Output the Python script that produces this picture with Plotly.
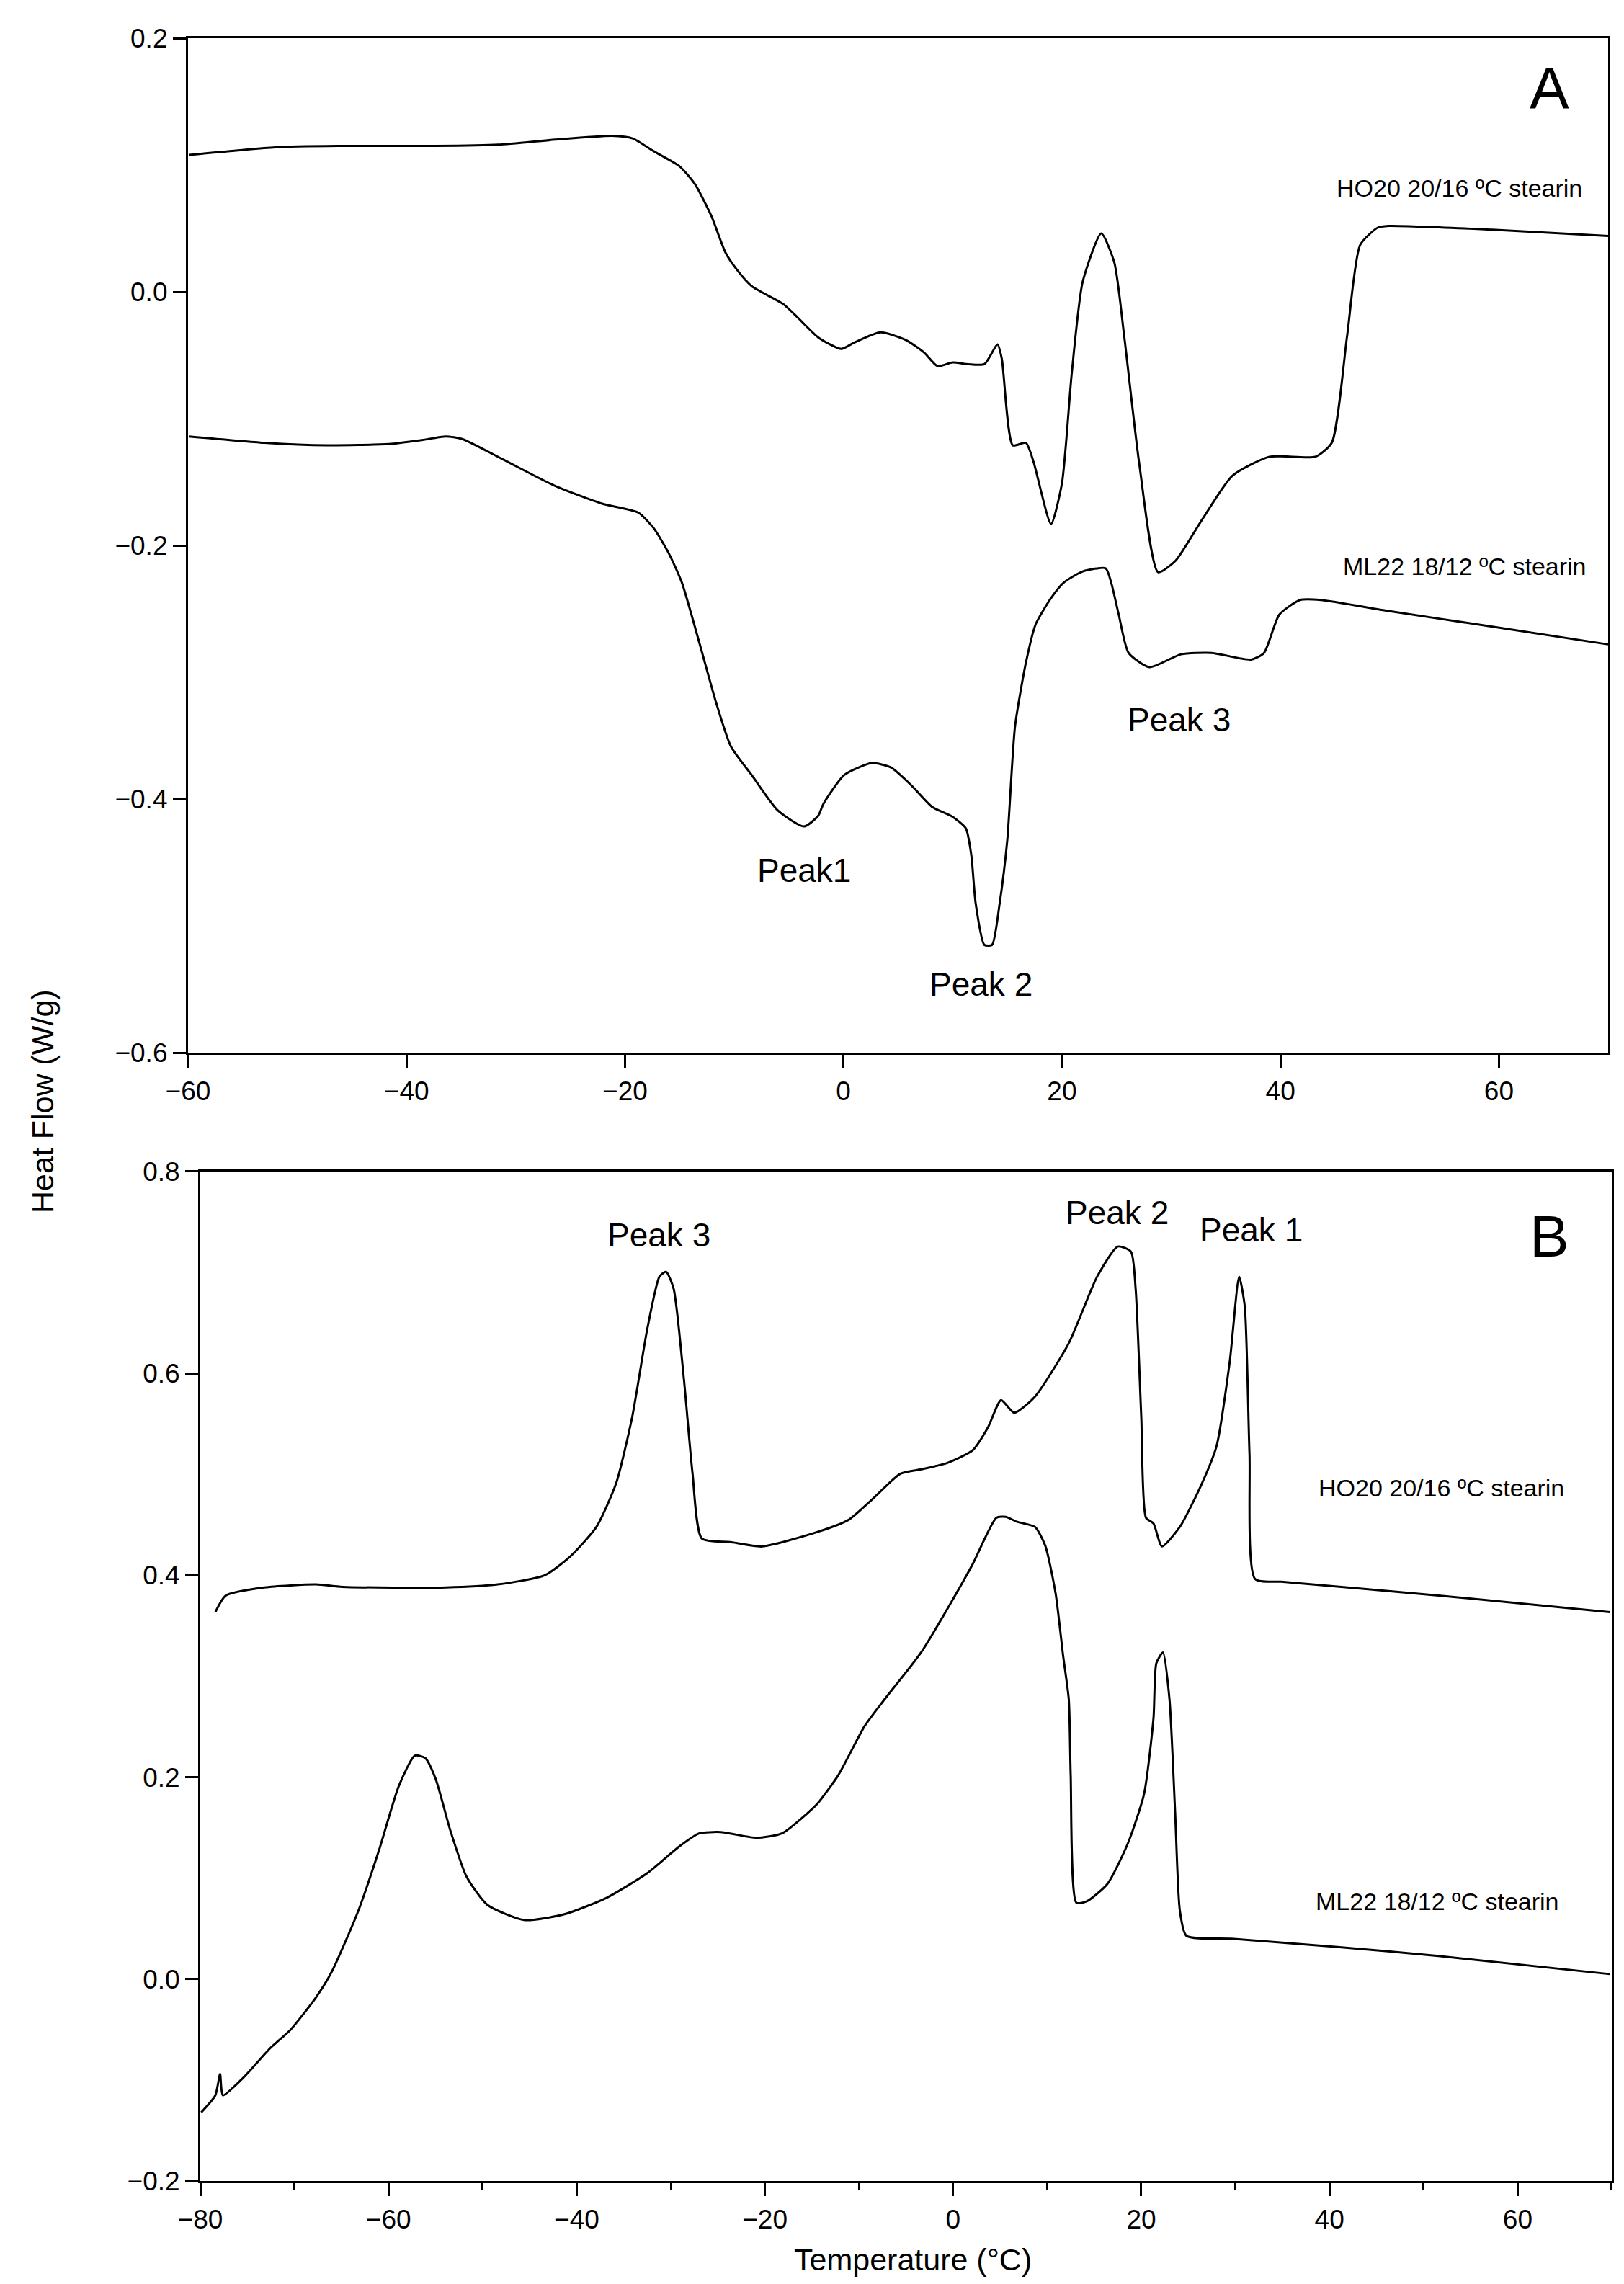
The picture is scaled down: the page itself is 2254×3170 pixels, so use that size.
import plotly.graph_objects as go
from plotly.subplots import make_subplots

# ---- panel A (cooling / crystallisation) ----
a_ho20_t = [-59.9, -52.0, -46.3, -37.3, -31.6, -26.4, -21.2, -19.3, -17.4, -15.0, -13.6, -12.1,
            -10.8, -9.8, -8.4, -5.5, -4.1, -2.3, -0.2, 1.0, 3.4, 5.7, 7.4, 8.6, 10.0, 11.4, 12.9,
            14.1, 14.5, 15.5, 16.7, 17.4, 19.0, 20.0, 20.9, 21.9, 23.6, 24.8, 25.7, 27.1, 28.8,
            30.4, 32.8, 35.6, 39.0, 43.2, 44.7, 46.1, 47.3, 48.9, 49.9, 59.4, 70.0]
a_ho20_hf = [0.108, 0.114, 0.115, 0.115, 0.116, 0.120, 0.123, 0.121, 0.111, 0.099, 0.085, 0.060,
             0.031, 0.018, 0.0045, -0.0097, -0.021, -0.036, -0.045, -0.040, -0.032, -0.038, -0.048,
             -0.0585, -0.0557, -0.057, -0.057, -0.0415, -0.053, -0.121, -0.119, -0.134, -0.183,
             -0.151, -0.064, 0.008, 0.046, 0.023, -0.035, -0.137, -0.221, -0.212, -0.180, -0.145,
             -0.130, -0.130, -0.119, -0.035, 0.037, 0.0506, 0.052, 0.049, 0.044]

a_ml22_t = [-59.9, -53.0, -47.3, -41.6, -38.7, -36.4, -34.9, -31.2, -26.4, -22.1, -18.8, -17.4,
            -16.0, -14.8, -13.1, -11.7, -10.3, -8.4, -6.0, -3.6, -2.3, -1.85, 0.07, 2.6, 4.35,
            6.2, 8.1, 10.0, 11.2, 11.7, 12.1, 12.9, 13.6, 14.3, 15.0, 15.7, 16.7, 17.6, 19.0,
            20.2, 21.9, 24.0, 24.5, 25.2, 26.1, 28.0, 30.9, 33.7, 37.3, 38.5, 39.9, 41.8, 43.7,
            49.9, 59.4, 70.0]
a_ml22_hf = [-0.114, -0.119, -0.121, -0.120, -0.117, -0.114, -0.116, -0.132, -0.153, -0.167,
             -0.174, -0.186, -0.206, -0.229, -0.2795, -0.3227, -0.3585, -0.381, -0.409, -0.4216,
             -0.413, -0.404, -0.381, -0.3716, -0.375, -0.389, -0.406, -0.414, -0.423, -0.444,
             -0.482, -0.515, -0.515, -0.482, -0.432, -0.343, -0.2925, -0.262, -0.2415, -0.229,
             -0.2205, -0.218, -0.229, -0.2545, -0.2847, -0.296, -0.2858, -0.2847, -0.290, -0.2847,
             -0.2545, -0.243, -0.243, -0.2517, -0.264, -0.278]

# ---- panel B (heating / melting) ----
b_ho20_t = [-78.4, -77.3, -73.2, -67.7, -64.9, -53.9, -48.4, -43.4, -40.7, -37.9, -35.8, -34.1,
            -32.5, -31.2, -30.5, -29.7, -28.6, -27.7, -26.7, -23.7, -20.3, -14.4, -11.1, -8.4,
            -5.6, -3.4, -0.6, 2.1, 3.7, 5.1, 6.5, 8.7, 12.3, 15.3, 17.5, 18.9, 19.4, 20.0, 20.5,
            21.3, 22.2, 24.1, 26.3, 28.0, 29.4, 30.4, 31.0, 31.5, 32.1, 35.1, 51.6, 69.8]
b_ho20_hf = [0.3636, 0.380, 0.388, 0.391, 0.3886, 0.388, 0.391, 0.400, 0.4186, 0.448, 0.4914,
             0.557, 0.644, 0.696, 0.7007, 0.684, 0.5936, 0.502, 0.4364, 0.433, 0.4286, 0.443,
             0.455, 0.477, 0.5007, 0.505, 0.5114, 0.524, 0.5464, 0.5736, 0.561, 0.577, 0.630,
             0.6957, 0.7257, 0.7207, 0.684, 0.557, 0.457, 0.4514, 0.4286, 0.448, 0.488, 0.528,
             0.6114, 0.6957, 0.6664, 0.5207, 0.3964, 0.3936, 0.380, 0.3636]

b_ml22_t = [-79.9, -78.4, -77.9, -77.6, -75.3, -72.6, -70.4, -67.7, -66.0, -63.2, -61.0, -58.9,
            -57.2, -56.1, -55.0, -53.4, -51.7, -49.5, -45.6, -41.3, -36.8, -32.5, -29.1, -27.0,
            -24.7, -20.9, -18.2, -15.4, -14.4, -12.2, -9.4, -7.3, -3.4, -0.1, 2.1, 4.6, 5.6, 6.8,
            8.7, 9.8, 10.9, 11.7, 12.3, 12.5, 13.1, 14.2, 16.4, 18.6, 20.3, 21.3, 21.6, 22.3,
            23.0, 23.6, 24.1, 24.8, 29.6, 40.6, 51.6, 69.8]
b_ml22_hf = [-0.132, -0.115, -0.094, -0.115, -0.0964, -0.0686, -0.050, -0.018, 0.0079, 0.0679,
             0.128, 0.1914, 0.2214, 0.219, 0.1986, 0.1464, 0.1014, 0.0736, 0.0586, 0.0643, 0.0807,
             0.105, 0.1314, 0.1443, 0.1457, 0.140, 0.1443, 0.165, 0.174, 0.202, 0.2507, 0.277,
             0.3236, 0.375, 0.4114, 0.457, 0.458, 0.453, 0.448, 0.4293, 0.382, 0.32, 0.277, 0.202,
             0.0757, 0.077, 0.0943, 0.135, 0.1836, 0.2586, 0.3129, 0.3236, 0.277, 0.165, 0.0679,
             0.0429, 0.040, 0.0321, 0.0229, 0.005]

SAMPLE_HO20 = "HO20 20/16 ºC stearin"
SAMPLE_ML22 = "ML22 18/12 ºC stearin"

FONT = "Liberation Sans"

fig = make_subplots(rows=2, cols=1)

line = dict(color="black", width=3, shape="spline", smoothing=0.6)
fig.add_trace(go.Scatter(x=a_ho20_t, y=a_ho20_hf, mode="lines", line=line), row=1, col=1)
fig.add_trace(go.Scatter(x=a_ml22_t, y=a_ml22_hf, mode="lines", line=line), row=1, col=1)
fig.add_trace(go.Scatter(x=b_ho20_t, y=b_ho20_hf, mode="lines", line=line), row=2, col=1)
fig.add_trace(go.Scatter(x=b_ml22_t, y=b_ml22_hf, mode="lines", line=line), row=2, col=1)

axis_style = dict(showline=True, linecolor="black", linewidth=3, mirror=True,
                  showgrid=False, zeroline=False, automargin=False,
                  ticks="outside", ticklen=18, tickwidth=3, tickcolor="black",
                  tickfont=dict(family=FONT, size=37, color="black"))

fig.update_xaxes(axis_style)
fig.update_yaxes(axis_style)

fig.update_xaxes(range=[-60, 70], tick0=-60, dtick=20, domain=[0.1122, 0.9867], row=1, col=1)
fig.update_yaxes(range=[-0.6, 0.2], tick0=-0.6, dtick=0.2, tickformat=".1f",
                 domain=[0.5416, 0.9858], row=1, col=1)
fig.update_xaxes(range=[-80, 70], tick0=-80, dtick=20, domain=[0.1198, 0.9889],
                 minor=dict(ticks="outside", ticklen=10, tickwidth=3, tickcolor="black", dtick=10),
                 row=2, col=1)
fig.update_yaxes(range=[-0.2, 0.8], tick0=-0.2, dtick=0.2, tickformat=".1f",
                 domain=[0.0476, 0.4896], row=2, col=1)

def note(text, x, y, xref, yref, size, xanchor="center", **kw):
    fig.add_annotation(text=text, x=x, y=y, xref=xref, yref=yref, showarrow=False,
                       xanchor=xanchor, yanchor="middle",
                       font=dict(family=FONT, size=size, color="black"), **kw)

# panel A labels
note("A", 64.6, 0.161, "x", "y", 82)
note(SAMPLE_HO20, 45.0, 0.082, "x", "y", 34, xanchor="left")
note(SAMPLE_ML22, 45.6, -0.2165, "x", "y", 34, xanchor="left")
note("Peak1", -3.6, -0.456, "x", "y", 46)
note("Peak 2", 12.6, -0.546, "x", "y", 46)
note("Peak 3", 30.7, -0.3375, "x", "y", 46)

# panel B labels
note("B", 63.4, 0.736, "x2", "y2", 82)
note(SAMPLE_HO20, 38.7, 0.487, "x2", "y2", 34, xanchor="left")
note(SAMPLE_ML22, 38.4, 0.077, "x2", "y2", 34, xanchor="left")
note("Peak 3", -31.3, 0.737, "x2", "y2", 46)
note("Peak 2", 17.4, 0.759, "x2", "y2", 46)
note("Peak 1", 31.7, 0.742, "x2", "y2", 46)

# shared axis titles
note("Heat Flow (W/g)", 0.0226, 0.5205, "paper", "paper", 43, textangle=-90)
note("Temperature (°C)", 0.5586, 0.0132, "paper", "paper", 43)

fig.update_layout(template="none", width=2254, height=3170, showlegend=False,
                  margin=dict(l=0, r=0, t=0, b=0, autoexpand=False),
                  paper_bgcolor="white", plot_bgcolor="white")

fig.write_html("out.html")
